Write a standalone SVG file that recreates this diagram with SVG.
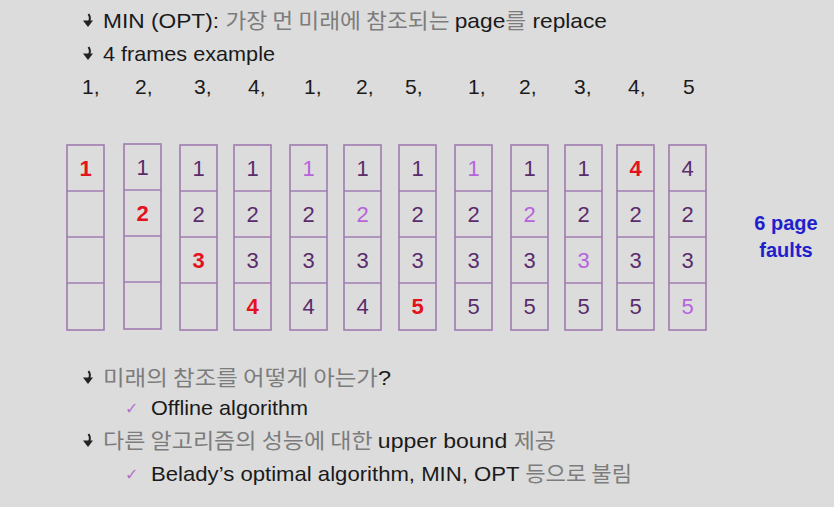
<svg xmlns="http://www.w3.org/2000/svg" width="834" height="507" viewBox="0 0 834 507">
<style>
.t{font-family:"Liberation Sans","Noto Sans CJK KR",sans-serif;font-size:21px;fill:#1a1a1a}
.k{fill:#7c7c7c;font-family:"Noto Sans CJK KR","Liberation Sans",sans-serif}
.cell{fill:none;stroke:#a07cb0;stroke-width:1.6}
.n{font-family:"Liberation Sans",sans-serif;font-size:22px;text-anchor:middle;fill:#5a2c6c}
.r{fill:#e3121c;font-weight:bold}
.l{fill:#b663dc}
.b{font-family:"Liberation Sans",sans-serif;font-size:20px;font-weight:bold;fill:#1f1fcc;text-anchor:middle}
.chk{font-family:"DejaVu Sans",sans-serif;font-size:16px;fill:#b372c8}
</style>
<defs>
<g id="bul"><path d="M5.5,-10 Q8,-6 6,-2.5" fill="none" stroke="#222" stroke-width="2"/><path d="M0,-3.5 L10,-3.5 L5,3 Z" fill="#222"/></g>
</defs>
<rect width="834" height="507" fill="#dcdcdc"/>
<g id="header">
<use href="#bul" x="83" y="24"/>
<text class="t" x="103" y="28" textLength="504" lengthAdjust="spacingAndGlyphs">MIN (OPT): <tspan class="k">가장 먼 미래에 참조되는 </tspan>page<tspan class="k">를</tspan> replace</text>
<use href="#bul" x="83" y="57"/>
<text class="t" x="103" y="61" textLength="172" lengthAdjust="spacingAndGlyphs">4 frames example</text>
</g>
<g id="sequence" class="t">
<text x="82" y="94">1,</text><text x="135" y="94">2,</text><text x="194" y="94">3,</text><text x="248" y="94">4,</text><text x="304" y="94">1,</text><text x="356" y="94">2,</text><text x="405" y="94">5,</text><text x="468" y="94">1,</text><text x="519" y="94">2,</text><text x="574" y="94">3,</text><text x="628" y="94">4,</text><text x="683" y="94">5</text>
</g>
<g id="frames">
<g id="c1"><rect class="cell" x="67" y="145" width="37" height="185"/><path class="cell" d="M67,191H104M67,237H104M67,283H104"/><text class="n r" x="85.5" y="176">1</text></g>
<g id="c2"><rect class="cell" x="124" y="144" width="37" height="185"/><path class="cell" d="M124,190H161M124,236H161M124,282H161"/><text class="n" x="142.5" y="175">1</text><text class="n r" x="142.5" y="221">2</text></g>
<g id="c3"><rect class="cell" x="180" y="145" width="37" height="185"/><path class="cell" d="M180,191H217M180,237H217M180,283H217"/><text class="n" x="198.5" y="176">1</text><text class="n" x="198.5" y="222">2</text><text class="n r" x="198.5" y="268">3</text></g>
<g id="c4"><rect class="cell" x="234" y="145" width="37" height="185"/><path class="cell" d="M234,191H271M234,237H271M234,283H271"/><text class="n" x="252.5" y="176">1</text><text class="n" x="252.5" y="222">2</text><text class="n" x="252.5" y="268">3</text><text class="n r" x="252.5" y="314">4</text></g>
<g id="c5"><rect class="cell" x="290" y="145" width="37" height="185"/><path class="cell" d="M290,191H327M290,237H327M290,283H327"/><text class="n l" x="308.5" y="176">1</text><text class="n" x="308.5" y="222">2</text><text class="n" x="308.5" y="268">3</text><text class="n" x="308.5" y="314">4</text></g>
<g id="c6"><rect class="cell" x="344" y="145" width="37" height="185"/><path class="cell" d="M344,191H381M344,237H381M344,283H381"/><text class="n" x="362.5" y="176">1</text><text class="n l" x="362.5" y="222">2</text><text class="n" x="362.5" y="268">3</text><text class="n" x="362.5" y="314">4</text></g>
<g id="c7"><rect class="cell" x="399" y="145" width="37" height="185"/><path class="cell" d="M399,191H436M399,237H436M399,283H436"/><text class="n" x="417.5" y="176">1</text><text class="n" x="417.5" y="222">2</text><text class="n" x="417.5" y="268">3</text><text class="n r" x="417.5" y="314">5</text></g>
<g id="c8"><rect class="cell" x="455" y="145" width="37" height="185"/><path class="cell" d="M455,191H492M455,237H492M455,283H492"/><text class="n l" x="473.5" y="176">1</text><text class="n" x="473.5" y="222">2</text><text class="n" x="473.5" y="268">3</text><text class="n" x="473.5" y="314">5</text></g>
<g id="c9"><rect class="cell" x="511" y="145" width="37" height="185"/><path class="cell" d="M511,191H548M511,237H548M511,283H548"/><text class="n" x="529.5" y="176">1</text><text class="n l" x="529.5" y="222">2</text><text class="n" x="529.5" y="268">3</text><text class="n" x="529.5" y="314">5</text></g>
<g id="c10"><rect class="cell" x="565" y="145" width="37" height="185"/><path class="cell" d="M565,191H602M565,237H602M565,283H602"/><text class="n" x="583.5" y="176">1</text><text class="n" x="583.5" y="222">2</text><text class="n l" x="583.5" y="268">3</text><text class="n" x="583.5" y="314">5</text></g>
<g id="c11"><rect class="cell" x="617" y="145" width="37" height="185"/><path class="cell" d="M617,191H654M617,237H654M617,283H654"/><text class="n r" x="635.5" y="176">4</text><text class="n" x="635.5" y="222">2</text><text class="n" x="635.5" y="268">3</text><text class="n" x="635.5" y="314">5</text></g>
<g id="c12"><rect class="cell" x="669" y="145" width="37" height="185"/><path class="cell" d="M669,191H706M669,237H706M669,283H706"/><text class="n" x="687.5" y="176">4</text><text class="n" x="687.5" y="222">2</text><text class="n" x="687.5" y="268">3</text><text class="n l" x="687.5" y="314">5</text></g>
</g>
<g id="faults">
<text class="b" x="786" y="230">6 page</text>
<text class="b" x="786" y="257">faults</text>
</g>
<g id="notes">
<use href="#bul" x="83" y="381"/>
<text class="t" x="103" y="385" textLength="288" lengthAdjust="spacingAndGlyphs"><tspan class="k">미래의 참조를 어떻게 아는가</tspan>?</text>
<text class="chk" x="125" y="414">✓</text>
<text class="t" x="151" y="415" textLength="157" lengthAdjust="spacingAndGlyphs">Offline algorithm</text>
<use href="#bul" x="83" y="444"/>
<text class="t" x="103" y="448" textLength="453" lengthAdjust="spacingAndGlyphs"><tspan class="k">다른 알고리즘의 성능에 대한 </tspan>upper bound <tspan class="k">제공</tspan></text>
<text class="chk" x="125" y="480">✓</text>
<text class="t" x="151" y="481" textLength="481" lengthAdjust="spacingAndGlyphs">Belady’s optimal algorithm, MIN, OPT <tspan class="k">등으로 불림</tspan></text>
</g>
</svg>
